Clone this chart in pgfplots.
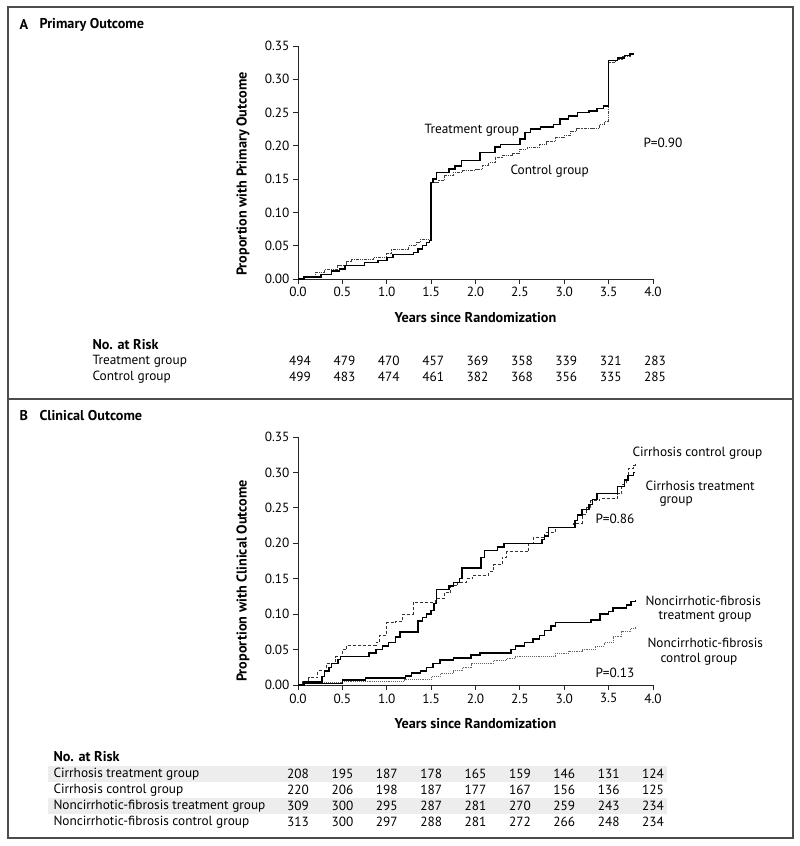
\documentclass[border=0pt]{standalone}
\usepackage{fontspec}
\setmainfont{PT Sans}
\usepackage{pgfplots}
\pgfplotsset{compat=1.18}
\newcommand{\bfs}{\bfseries\fontsize{14.2}{16}\selectfont}
\pgfplotsset{
  km/.style={
    scale only axis, width=355pt,
    xmin=0, xmax=4, ymin=0, ymax=0.35,
    axis lines*=left, tick align=outside, major tick length=5pt,
    xtick={0,0.5,1,1.5,2,2.5,3,3.5,4},
    ytick={0,0.05,0.1,0.15,0.2,0.25,0.3,0.35},
    axis line style={line width=0.8pt, black!85},
    tick style={line width=0.8pt, black!85},
    xticklabel style={/pgf/number format/.cd, fixed, fixed zerofill, precision=1, assume math mode=true},
    yticklabel style={/pgf/number format/.cd, fixed, fixed zerofill, precision=2, assume math mode=true},
    tick label style={font=\fontsize{13.3}{15}\selectfont},
    label style={font=\bfs},
    clip=false,
  },
  trt/.style={const plot, black, line width=1.5pt},
  ctl/.style={const plot, black!75, line width=0.9pt, densely dashdotdotted},
}
\begin{document}
\begin{tikzpicture}[x=1pt, y=1pt, font=\fontsize{13.3}{15}\selectfont]
\path (0,0) rectangle (800,846);
\draw[line width=1.3pt, black!70] (8,{846-7}) rectangle (793,{846-838});
\draw[line width=1.3pt, black!70] (8,{846-399}) -- (793,{846-399});

% ---------- Panel A ----------
\node[anchor=west, font=\bfs] at (16,{846-25}) {A};
\node[anchor=west, font=\bfs] at (36,{846-25}) {Primary Outcome};
\begin{axis}[km, height=233pt, at={(298pt,567pt)}, anchor=south west,
  xlabel={Years since Randomization}, ylabel={Proportion with Primary Outcome},
  xlabel style={at={(axis description cs:0.5,-0.167)}, anchor=center},
  ylabel style={at={(axis description cs:-0.155,0.45)}, anchor=center}]
\addplot[ctl] coordinates {(0,0)(0.07,0.004)(0.2,0.01)(0.3,0.015)(0.45,0.02)(0.55,0.027)(0.6,0.03)(0.85,0.032)(1.0,0.038)(1.05,0.045)(1.25,0.05)(1.33,0.055)(1.38,0.06)(1.5,0.145)(1.58,0.148)(1.65,0.155)(1.75,0.16)(1.85,0.163)(2.0,0.165)(2.08,0.17)(2.15,0.175)(2.22,0.182)(2.3,0.186)(2.42,0.188)(2.5,0.195)(2.58,0.198)(2.72,0.202)(2.8,0.207)(2.9,0.212)(3.0,0.215)(3.07,0.222)(3.14,0.226)(3.3,0.226)(3.4,0.232)(3.45,0.236)(3.5,0.325)(3.58,0.33)(3.66,0.335)(3.75,0.338)(3.78,0.34)};
\addplot[trt] coordinates {(0,0)(0.07,0.003)(0.26,0.007)(0.38,0.012)(0.47,0.015)(0.53,0.02)(0.75,0.025)(0.9,0.028)(1.0,0.032)(1.07,0.037)(1.3,0.04)(1.35,0.045)(1.4,0.05)(1.45,0.055)(1.48,0.058)(1.5,0.145)(1.52,0.15)(1.56,0.16)(1.7,0.165)(1.77,0.17)(1.84,0.178)(2.05,0.19)(2.22,0.198)(2.28,0.202)(2.5,0.21)(2.56,0.22)(2.62,0.225)(2.73,0.228)(2.88,0.232)(2.95,0.24)(3.05,0.245)(3.15,0.25)(3.28,0.252)(3.37,0.256)(3.44,0.26)(3.5,0.328)(3.6,0.332)(3.68,0.336)(3.74,0.338)(3.78,0.34)};
\end{axis}
\node[anchor=west] at (421,{846-130}) {Treatment group};
\node[anchor=west] at (507,{846-171}) {Control group};
\node[anchor=west] at (640,{846-143}) {P=0.90};

\node[anchor=west, font=\bfs] at (89,{846-345}) {No. at Risk};
\node[anchor=west] at (89,{846-361}) {Treatment group};
\node[anchor=west] at (89,{846-377}) {Control group};
\foreach \v [count=\i from 0] in {494,479,470,457,369,358,339,321,283}
  \node at ({300+\i*44.375},{846-361}) {\v};
\foreach \v [count=\i from 0] in {499,483,474,461,382,368,356,335,285}
  \node at ({300+\i*44.375},{846-377}) {\v};

% ---------- Panel B ----------
\node[anchor=west, font=\bfs] at (16,{846-416}) {B};
\node[anchor=west, font=\bfs] at (36,{846-416}) {Clinical Outcome};
\begin{axis}[km, height=248pt, at={(298pt,161pt)}, anchor=south west,
  xlabel={Years since Randomization}, ylabel={Proportion with Clinical Outcome},
  xlabel style={at={(axis description cs:0.5,-0.157)}, anchor=center},
  ylabel style={at={(axis description cs:-0.155,0.42)}, anchor=center}]
% Cirrhosis control
\addplot[const plot, black!80, line width=0.9pt, densely dashed] coordinates {(0,0)(0.05,0.005)(0.12,0.01)(0.22,0.02)(0.32,0.03)(0.42,0.04)(0.5,0.05)(0.55,0.056)(0.88,0.06)(0.92,0.07)(1.0,0.088)(1.1,0.09)(1.18,0.1)(1.3,0.117)(1.55,0.122)(1.65,0.13)(1.72,0.14)(1.8,0.145)(1.9,0.15)(1.97,0.155)(2.15,0.16)(2.2,0.17)(2.3,0.18)(2.35,0.188)(2.6,0.2)(2.65,0.208)(2.78,0.215)(2.9,0.222)(3.1,0.228)(3.2,0.24)(3.25,0.25)(3.3,0.26)(3.4,0.263)(3.6,0.27)(3.65,0.283)(3.7,0.29)(3.72,0.305)(3.78,0.31)(3.8,0.312)};
% Noncirrhotic control
\addplot[const plot, black!60, line width=0.9pt, densely dotted] coordinates {(0,0)(0.1,0.003)(0.5,0.005)(1.2,0.008)(1.5,0.012)(1.6,0.016)(1.75,0.02)(1.85,0.025)(1.95,0.03)(2.2,0.035)(2.35,0.038)(2.45,0.04)(2.9,0.045)(3.05,0.048)(3.2,0.05)(3.35,0.055)(3.45,0.06)(3.55,0.068)(3.65,0.075)(3.75,0.08)(3.8,0.082)};
% Cirrhosis treatment
\addplot[trt] coordinates {(0,0)(0.07,0.004)(0.27,0.012)(0.3,0.02)(0.35,0.025)(0.38,0.03)(0.45,0.036)(0.48,0.04)(0.8,0.045)(0.88,0.05)(0.95,0.055)(1.02,0.06)(1.1,0.068)(1.15,0.075)(1.35,0.09)(1.4,0.095)(1.45,0.1)(1.5,0.105)(1.53,0.115)(1.56,0.135)(1.7,0.14)(1.75,0.145)(1.82,0.15)(1.85,0.165)(2.06,0.18)(2.1,0.19)(2.25,0.195)(2.32,0.2)(2.75,0.205)(2.78,0.21)(2.82,0.222)(3.12,0.232)(3.15,0.24)(3.2,0.248)(3.28,0.255)(3.32,0.262)(3.37,0.27)(3.6,0.28)(3.68,0.289)(3.72,0.296)(3.78,0.3)(3.8,0.3)};
% Noncirrhotic treatment
\addplot[trt] coordinates {(0,0)(0.07,0.002)(0.5,0.007)(0.76,0.01)(1.21,0.013)(1.28,0.017)(1.38,0.02)(1.45,0.025)(1.52,0.03)(1.6,0.035)(1.75,0.038)(1.95,0.042)(2.05,0.045)(2.4,0.05)(2.45,0.055)(2.55,0.06)(2.65,0.065)(2.72,0.07)(2.78,0.077)(2.85,0.083)(2.9,0.088)(3.3,0.092)(3.4,0.1)(3.5,0.104)(3.55,0.109)(3.7,0.113)(3.75,0.118)(3.8,0.12)};
\end{axis}
\node[anchor=west] at (629,{846-453}) {Cirrhosis control group};
\node[anchor=west] at (642,{846-486}) {Cirrhosis treatment};
\node[anchor=west] at (656,{846-502}) {group};
\node[anchor=west] at (592,{846-519}) {P=0.86};
\node[anchor=west] at (642,{846-601}) {Noncirrhotic-fibrosis};
\node[anchor=west] at (655,{846-617}) {treatment group};
\node[anchor=west] at (644,{846-643}) {Noncirrhotic-fibrosis};
\node[anchor=west] at (657,{846-659}) {control group};
\node[anchor=west] at (592,{846-673}) {P=0.13};

\fill[black!7] (48,{846-782}) rectangle (667,{846-766});
\fill[black!7] (48,{846-814}) rectangle (667,{846-798});
\node[anchor=west, font=\bfs] at (50,{846-757}) {No. at Risk};
\node[anchor=west] at (50,{846-774}) {Cirrhosis treatment group};
\node[anchor=west] at (50,{846-790}) {Cirrhosis control group};
\node[anchor=west] at (50,{846-806}) {Noncirrhotic-fibrosis treatment group};
\node[anchor=west] at (50,{846-822}) {Noncirrhotic-fibrosis control group};
\foreach \v [count=\i from 0] in {208,195,187,178,165,159,146,131,124}
  \node at ({298+\i*44.375},{846-774}) {\v};
\foreach \v [count=\i from 0] in {220,206,198,187,177,167,156,136,125}
  \node at ({298+\i*44.375},{846-790}) {\v};
\foreach \v [count=\i from 0] in {309,300,295,287,281,270,259,243,234}
  \node at ({298+\i*44.375},{846-806}) {\v};
\foreach \v [count=\i from 0] in {313,300,297,288,281,272,266,248,234}
  \node at ({298+\i*44.375},{846-822}) {\v};
\end{tikzpicture}
\end{document}
